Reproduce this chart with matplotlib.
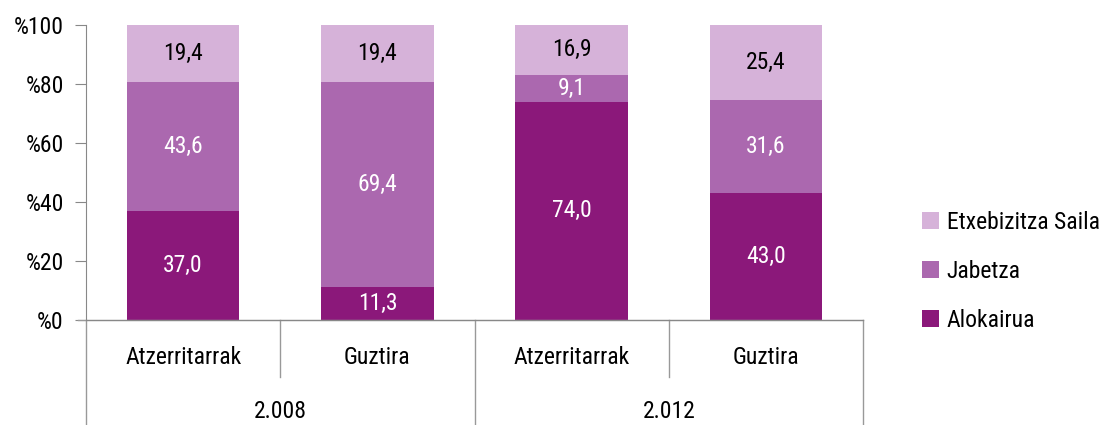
import matplotlib
matplotlib.use('Agg')
import matplotlib.pyplot as plt
import numpy as np

plt.rcParams['font.family'] = ['Roboto Condensed', 'Barlow Condensed', 'Archivo Narrow',
                               'Liberation Sans Narrow', 'DejaVu Sans']

years = ['2.008', '2.012']
groups = ['Atzerritarrak', 'Guztira', 'Atzerritarrak', 'Guztira']
alokairua = [37.0, 11.3, 74.0, 43.0]
jabetza = [43.6, 69.4, 9.1, 31.6]
etxebizitza = [19.4, 19.4, 16.9, 25.4]

series = [('Alokairua', alokairua, '#8B187A', 'white'),
          ('Jabetza', jabetza, '#AB68AF', 'white'),
          ('Etxebizitza Saila', etxebizitza, '#D6B2D9', 'black')]

fs = 17
fig = plt.figure(figsize=(10.99, 4.25), dpi=100)
ax = fig.add_axes([86/1099, 1-320/425, (863-86)/1099, 295/425])

x = np.arange(len(groups))
bottom = np.zeros(len(groups))
handles = []
for name, vals, col, tcol in series:
    vals = np.array(vals)
    h = np.minimum(vals, 100 - bottom)
    b = ax.bar(x, h, bottom=bottom, width=0.58, color=col, label=name)
    handles.append(b)
    for xi, bi, vi, hi in zip(x, bottom, vals, h):
        ax.text(xi, bi + hi/2, f'{vi:.1f}'.replace('.', ','), ha='center', va='center',
                color=tcol, fontsize=fs)
    bottom = bottom + h

ax.set_xlim(-0.5, len(groups) - 0.5)
ax.set_ylim(0, 100)
ax.set_yticks([0, 20, 40, 60, 80, 100])
ax.set_yticklabels(['%0', '%20', '%40', '%60', '%80', '%100'], fontsize=fs)
ax.tick_params(axis='y', length=8, color='#888888', pad=8)
ax.set_xticks([])
for s in ['top', 'right']:
    ax.spines[s].set_visible(False)
ax.spines['left'].set_color('#888888')
ax.spines['bottom'].set_color('#888888')
ax.spines['left'].set_bounds(0, 100)

# two-level category axis
lc = '#999999'
yb1 = -57/295
yb2 = -105/295
ax.plot([-8/777, 1], [0, 0], transform=ax.transAxes, color=lc, lw=1, clip_on=False)
for xv, ye in [(0, yb2), (0.25, yb1), (0.5, yb2), (0.75, yb1), (1.0, yb2)]:
    ax.plot([xv, xv], [0, ye], transform=ax.transAxes, color=lc, lw=1, clip_on=False)
for i, g in enumerate(groups):
    ax.text((i + 0.5)/len(groups), -38/295, g, transform=ax.transAxes,
            ha='center', va='center', fontsize=fs)
for i, yr in enumerate(years):
    ax.text(0.25 + 0.5*i, -92/295, yr, transform=ax.transAxes,
            ha='center', va='center', fontsize=fs)

ax.legend(handles[::-1], [s[0] for s in series][::-1], loc='center left',
          bbox_to_anchor=(0.048, 0.166), bbox_transform=ax.transAxes, frameon=False,
          fontsize=fs, handlelength=0.72, handleheight=0.72, handletextpad=0.35,
          labelspacing=1.1)
ax.get_legend().set_bbox_to_anchor((1.048, 0.166), transform=ax.transAxes)

plt.savefig('out.png', dpi=100)
